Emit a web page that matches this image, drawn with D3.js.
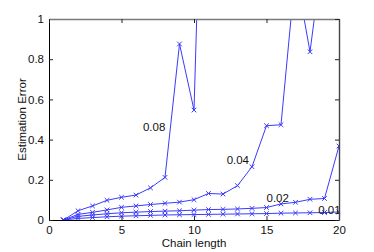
<!DOCTYPE html>
<html><head><meta charset="utf-8">
<script src="https://cdn.jsdelivr.net/npm/d3@7/dist/d3.min.js"></script>
<style>
body{margin:0;background:#fff;}
svg{display:block;font-family:"Liberation Sans",Arial,Helvetica,sans-serif;}
</style></head>
<body>
<svg id="c" width="374" height="252"></svg>
<script>
const chainLength = [1,2,3,4,5,6,7,8,9,10,11,12,13,14,15,16,17,18,19,20];
const series008 = [0,0.046,0.07,0.098,0.113,0.124,0.16,0.212,0.876,0.547,2.98];
const series004 = [0,0.028,0.038,0.05,0.063,0.07,0.077,0.083,0.089,0.101,0.132,0.129,0.171,0.265,0.469,0.474,1.24,0.837,1.39,1.8];
const series002 = [0,0.018,0.025,0.031,0.036,0.039,0.042,0.044,0.046,0.049,0.052,0.053,0.055,0.058,0.062,0.08,0.088,0.103,0.107,0.368];
const series001 = [0,0.008,0.012,0.016,0.019,0.021,0.023,0.025,0.026,0.027,0.028,0.029,0.03,0.031,0.032,0.034,0.035,0.036,0.037,0.04];
const seriesNames = ["0.08","0.04","0.02","0.01"];
const labelPos = [[6.48,0.443],[12.25,0.281],[15.0,0.091],[18.57,0.032]];
const xTicks = [0,5,10,15,20];
const yTicks = [0,0.2,0.4,0.6,0.8,1];

const allSeries = [series008,series004,series002,series001];
const svg = d3.select("#c");
const L=49,R=339,T=19,B=220;
const x = d3.scaleLinear().domain([0,20]).range([L,R]);
const y = d3.scaleLinear().domain([0,1]).range([B,T]);

svg.append("defs").append("clipPath").attr("id","clip")
  .append("rect").attr("x",L).attr("y",T).attr("width",R-L).attr("height",B-T);

const plot = svg.append("g").attr("clip-path","url(#clip)");
const line = d3.line().x((d,i)=>x(chainLength[i])).y(d=>y(d));
const col = "#3a3aff";
allSeries.forEach(s=>{
  plot.append("path").datum(s).attr("d",line).attr("fill","none").attr("stroke",col).attr("stroke-width",1);
  const m=2.3;
  plot.selectAll(null).data(s).enter().append("path")
    .attr("d",(d,i)=>{const cx=x(chainLength[i]),cy=y(d);return `M${cx-m},${cy-m}L${cx+m},${cy+m}M${cx-m},${cy+m}L${cx+m},${cy-m}`;})
    .attr("stroke",col).attr("stroke-width",1).attr("fill","none");
});

// labels
svg.selectAll(".lbl").data(seriesNames).enter().append("text")
  .attr("x",(d,i)=>x(labelPos[i][0])).attr("y",(d,i)=>y(labelPos[i][1]))
  .attr("font-size","11.5px").attr("fill","#111").text(d=>d);

const fmt = d3.format("~g");
const gb = svg.append("g").attr("transform",`translate(0,${B})`)
  .call(d3.axisBottom(x).tickValues(xTicks).tickSize(-4).tickSizeOuter(0).tickPadding(6).tickFormat(fmt));
const gl = svg.append("g").attr("transform",`translate(${L},0)`)
  .call(d3.axisLeft(y).tickValues(yTicks).tickSize(-4).tickSizeOuter(0).tickPadding(5).tickFormat(fmt));
const gt = svg.append("g").attr("transform",`translate(0,${T})`)
  .call(d3.axisTop(x).tickValues(xTicks).tickSize(-4).tickSizeOuter(0).tickFormat(""));
const gr = svg.append("g").attr("transform",`translate(${R},0)`)
  .call(d3.axisRight(y).tickValues(yTicks).tickSize(-4).tickSizeOuter(0).tickFormat(""));
[gb,gl,gt,gr].forEach(g=>{
  g.selectAll("text").attr("font-size","11.5px").attr("font-family","'Liberation Sans',Arial,sans-serif").attr("fill","#111");
  g.selectAll("line").attr("stroke","#222");
});
gb.select(".domain").attr("stroke","#000");
gl.select(".domain").attr("stroke","#000");
gt.select(".domain").attr("stroke","#7a7a7a").attr("stroke-width",1.6);
gr.select(".domain").attr("stroke","#444").attr("stroke-width",1.4);

svg.append("text").attr("x",(L+R)/2).attr("y",247).attr("text-anchor","middle")
  .attr("font-size","11.5px").attr("fill","#111").text("Chain length");
svg.append("text").attr("transform",`translate(26,${(T+B)/2}) rotate(-90)`).attr("text-anchor","middle")
  .attr("font-size","11.5px").attr("fill","#111").text("Estimation Error");
</script>
</body></html>
